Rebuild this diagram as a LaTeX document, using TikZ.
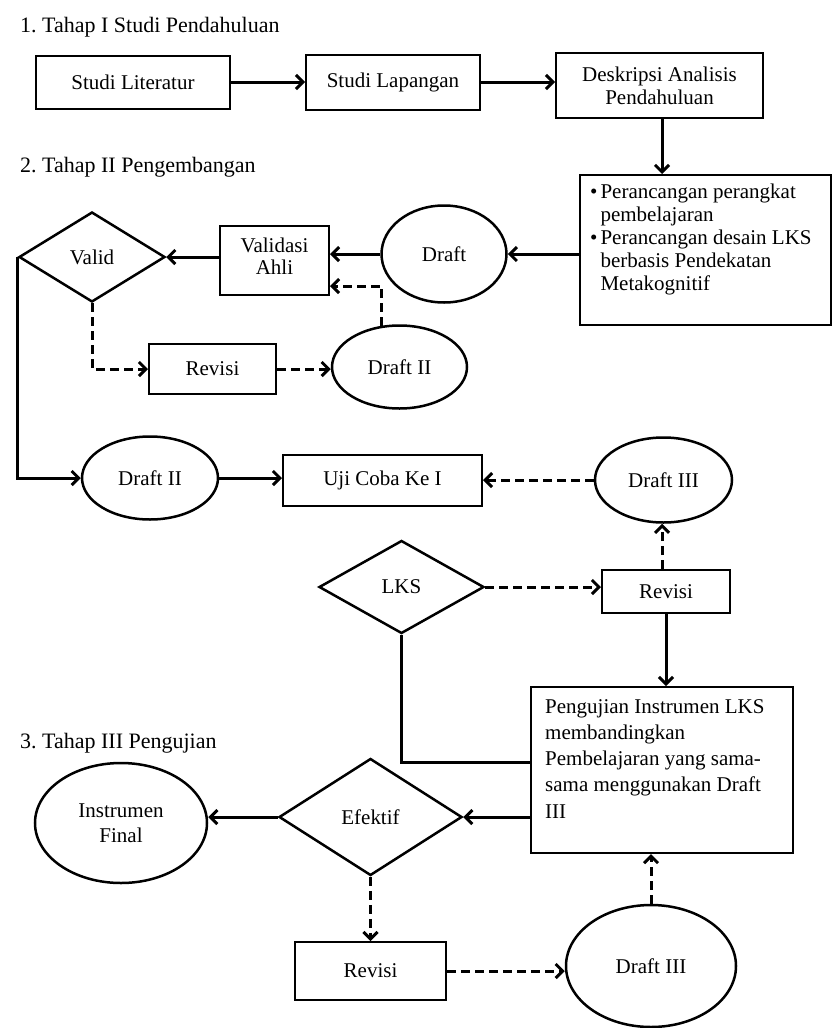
\documentclass[tikz,border=0pt]{standalone}
\usepackage{fontspec}
\setmainfont{Liberation Serif}
\usetikzlibrary{shapes.geometric,arrows.meta}

\begin{document}
\begin{tikzpicture}[x=1pt,y=-1pt,
  every node/.style={font=\fontsize{21}{23}\selectfont, inner sep=0pt, align=center},
  box/.style={draw, rectangle, line width=2pt},
  oval/.style={draw, ellipse, line width=2.5pt},
  decision/.style={draw, diamond, line width=2.5pt},
  conn/.style={line width=3pt},
  arr/.style={conn, -{Straight Barb[length=7pt,width=14pt]}},
  darr/.style={arr, dash pattern=on 9pt off 5pt},
  title/.style={anchor=west, font=\fontsize{22}{24}\selectfont},
  para/.style={anchor=base west, align=left}
]
\useasboundingbox (0,0) rectangle (833,1028);

% stage headings
\node[title] (t1) at (20,27)  {1.\ Tahap I Studi Pendahuluan};
\node[title] (t2) at (20,167) {2.\ Tahap II Pengembangan};
\node[title] (t3) at (20,743) {3.\ Tahap III Pengujian};

% stage I
\node[box, minimum width=194pt, minimum height=53pt] (lit)  at (133,82)  {Studi Literatur};
\node[box, minimum width=174pt, minimum height=55pt] (lap)  at (393,82)  {Studi Lapangan};
\node[box, minimum width=207pt, minimum height=65pt] (desk) at (659.5,85.5) {Deskripsi Analisis\\Pendahuluan};

% stage II
\node[box, minimum width=251pt, minimum height=150pt] (peran) at (705.5,250) {};
\node[para] (peranTxt) at (590,198) {%
  \begin{tabular}[t]{@{}l@{\hspace{3pt}}l@{}}
  \textbullet & Perancangan perangkat\\
              & pembelajaran\\
  \textbullet & Perancangan desain LKS\\
              & berbasis Pendekatan\\
              & Metakognitif
  \end{tabular}};

\node[oval, minimum width=125pt, minimum height=97pt] (draft) at (444,254) {Draft};
\node[box, minimum width=109pt, minimum height=69pt] (valid2) at (274.5,260.5) {};
\node[font=\fontsize{21}{22}\selectfont] (valid2Txt) at (274.5,256) {Validasi\\Ahli};
\node[decision, minimum width=146pt, minimum height=90pt] (valid) at (92,257) {Valid};
\node[box, minimum width=127pt, minimum height=50pt] (rev1) at (212.5,369) {Revisi};
\node[oval, minimum width=135pt, minimum height=83pt] (d2s) at (399.5,367) {Draft II};

\node[oval, minimum width=136pt, minimum height=83pt] (d2l) at (150,478) {Draft II};
\node[box, minimum width=199pt, minimum height=51pt] (uji) at (382.5,480.5) {Uji Coba Ke I};
\node[oval, minimum width=137pt, minimum height=85pt] (d3t) at (663.5,480) {Draft III};
\node[decision, minimum width=165pt, minimum height=93pt] (lks) at (401.5,587) {LKS};
\node[box, minimum width=128pt, minimum height=43pt] (rev2) at (666,591.5) {Revisi};

% stage III
\node[box, minimum width=262pt, minimum height=166pt] (peng) at (662,770) {};
\node[para, font=\fontsize{21}{26.25}\selectfont] (pengTxt) at (545,713) {%
  \begin{tabular}[t]{@{}l@{}}
  Pengujian Instrumen LKS\\
  membandingkan\\
  Pembelajaran yang sama-\\
  sama menggunakan Draft\\
  III
  \end{tabular}};
\node[decision, minimum width=183pt, minimum height=117pt] (efek) at (370.5,817) {Efektif};
\node[oval, minimum width=172pt, minimum height=120pt, font=\fontsize{21}{25}\selectfont] (instr) at (121,823) {Instrumen\\Final};
\node[box, minimum width=151pt, minimum height=58pt] (rev3) at (370.5,971) {Revisi};
\node[oval, minimum width=170pt, minimum height=122pt] (d3b) at (651,966) {Draft III};

% connectors: stage I
\draw[arr] (lit.east) -- (lit.east -| lap.west);
\draw[arr] (lap.east) -- (lap.east -| desk.west);
\draw[arr] (desk.south -| 662,0) -- (peran.north -| 662,0);

% connectors: stage II
\draw[arr] (peran.west |- draft.east) -- (draft.east);
\draw[arr] (draft.west) -- (draft.west -| valid2.east);
\draw[arr] (valid2.west |- valid.east) -- (valid.east);
\draw[darr] (valid.south) |- (rev1.west);
\draw[darr] (rev1.east) -- (rev1.east -| d2s.west);
\draw[darr] (d2s.113) |- ([yshift=-25.5pt]valid2.east);
\draw[arr] (valid.west) |- (d2l.west);
\draw[arr] (d2l.east) -- (d2l.east -| uji.west);
\draw[darr] (d3t.west) -- (d3t.west -| uji.east);
\draw[darr] (lks.east) -- (lks.east -| rev2.west);
\draw[darr] (rev2.north -| 662,0) -- (d3t.south -| 662,0);
\draw[arr] (rev2.south) -- (peng.north -| rev2.south);

% connectors: stage III
\draw[conn] (lks.south) |- ([yshift=8pt]peng.west);
\draw[arr] (peng.west |- efek.east) -- (efek.east);
\draw[arr] (efek.west) -- (efek.west -| instr.east);
\draw[darr] (efek.south) -- (rev3.north);
\draw[darr] (rev3.east) -- (rev3.east -| d3b.west);
\draw[darr] (d3b.north) -- (d3b.north |- peng.south);
\end{tikzpicture}
\end{document}
